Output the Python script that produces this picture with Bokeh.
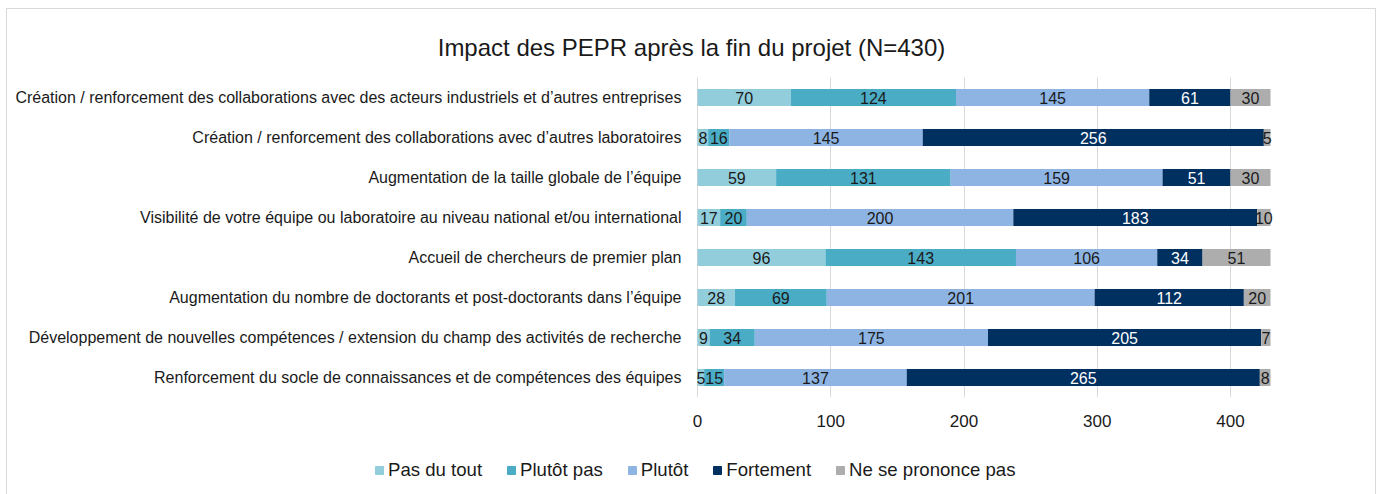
from bokeh.plotting import figure
from bokeh.models import ColumnDataSource, FixedTicker, Legend, LegendItem, FactorRange
from bokeh.layouts import column
from bokeh.core.properties import value
from bokeh.embed import file_html
from bokeh.resources import INLINE
import numpy as np

title = "Impact des PEPR après la fin du projet (N=430)"
categories = [
    "Création / renforcement des collaborations avec des acteurs industriels et d’autres entreprises",
    "Création / renforcement des collaborations avec d’autres laboratoires",
    "Augmentation de la taille globale de l’équipe",
    "Visibilité de votre équipe ou laboratoire au niveau national et/ou international",
    "Accueil de chercheurs de premier plan",
    "Augmentation du nombre de doctorants et post-doctorants dans l’équipe",
    "Développement de nouvelles compétences / extension du champ des activités de recherche",
    "Renforcement du socle de connaissances et de compétences des équipes",
]
series_names = ["Pas du tout", "Plutôt pas", "Plutôt", "Fortement", "Ne se prononce pas"]
pas_du_tout = [70, 8, 59, 17, 96, 28, 9, 5]
plutot_pas = [124, 16, 131, 20, 143, 69, 34, 15]
plutot = [145, 145, 159, 200, 106, 201, 175, 137]
fortement = [61, 256, 51, 183, 34, 112, 205, 265]
ne_se_prononce = [30, 5, 30, 10, 51, 20, 7, 8]
x_ticks = [0, 100, 200, 300, 400]
x_max = 430

colors = ["#92CDDC", "#4BACC6", "#8EB4E3", "#00305F", "#ADADAD"]
label_colors = ["#1a1a1a", "#1a1a1a", "#1a1a1a", "#ffffff", "#1a1a1a"]
FONT = "Liberation Sans"
BORDER = "1px solid #d9d9d9"

# layout geometry (pixels inside the figure)
W, H, LH = 1368, 433, 52
TOP, BOTTOM = 68, 45
ZERO_PX, END_PX = 690, 1263          # where 0 and x_max fall horizontally
ppu = (END_PX - ZERO_PX) / x_max
x_start = -ZERO_PX / ppu
x_end = x_max + (W - END_PX) / ppu
label_gap = 16 / ppu

series = [pas_du_tout, plutot_pas, plutot, fortement, ne_se_prononce]
keys = ["s0", "s1", "s2", "s3", "s4"]
data = {"cat": categories}
for k, s in zip(keys, series):
    data[k] = s
source = ColumnDataSource(data)

p = figure(
    width=W, height=H,
    y_range=FactorRange(factors=list(reversed(categories))),
    x_range=(x_start, x_end), y_axis_location=None,
    output_backend="svg", toolbar_location=None,
    min_border_left=0, min_border_right=0, min_border_top=TOP, min_border_bottom=BOTTOM,
)
p.outline_line_color = None

renderers = p.hbar_stack(keys, y="cat", height=0.42, color=colors, source=source, line_color=None)

# category labels (left of the zero line)
cs = ColumnDataSource(dict(x=[-label_gap] * len(categories), y=categories, t=categories))
p.text(x="x", y="y", text="t", source=cs, text_align="right", text_baseline="middle",
       text_font=value(FONT), text_font_size="16px", text_color="#1a1a1a")

# segment labels
arr = np.array(series, dtype=float)
cum = np.cumsum(arr, axis=0)
starts = cum - arr
for i in range(len(series)):
    centers = (starts[i] + cum[i]) / 2
    ls = ColumnDataSource(dict(x=centers, y=categories, t=[str(v) for v in series[i]]))
    p.text(x="x", y="y", text="t", source=ls, text_align="center", text_baseline="middle",
           text_font=value(FONT), text_font_size="16px", text_color=label_colors[i])

p.title.text = title
p.title.align = "center"
p.title.text_font = FONT
p.title.text_font_size = "24px"
p.title.text_font_style = "normal"
p.title.text_color = "#1a1a1a"
p.title.standoff = 33

p.xaxis.ticker = FixedTicker(ticks=x_ticks)
p.xaxis.axis_line_color = None
p.xaxis.major_tick_line_color = None
p.xaxis.minor_tick_line_color = None
p.xaxis.major_label_text_font = FONT
p.xaxis.major_label_text_font_size = "17px"
p.xaxis.major_label_text_color = "#1a1a1a"
p.xaxis.major_label_standoff = 11

p.xgrid.grid_line_color = "#d9d9d9"
p.ygrid.grid_line_color = None

# legend strip
p2 = figure(width=W, height=LH, x_range=(0, W), y_range=(0, LH),
            x_axis_type=None, y_axis_type=None, output_backend="svg", toolbar_location=None,
            min_border=0)
p2.outline_line_color = None
p2.grid.grid_line_color = None
dummy = [p2.hbar(y=[-100], left=[-200], right=[-100], height=1, color=c) for c in colors]
legend = Legend(
    items=[LegendItem(label=n, renderers=[r]) for n, r in zip(series_names, dummy)],
    orientation="horizontal", location=(367, 13),
    glyph_width=10, glyph_height=10, label_standoff=4, spacing=24,
    label_text_font=FONT, label_text_font_size="18.6px", label_text_color="#1a1a1a",
    border_line_color=None, background_fill_alpha=0, padding=0, margin=0,
)
p2.add_layout(legend, "center")

layout = column(p, p2, spacing=0,
                styles={"border": BORDER, "margin-left": "6px", "margin-top": "8px"})

open("out.html", "w").write(file_html(layout, INLINE))
